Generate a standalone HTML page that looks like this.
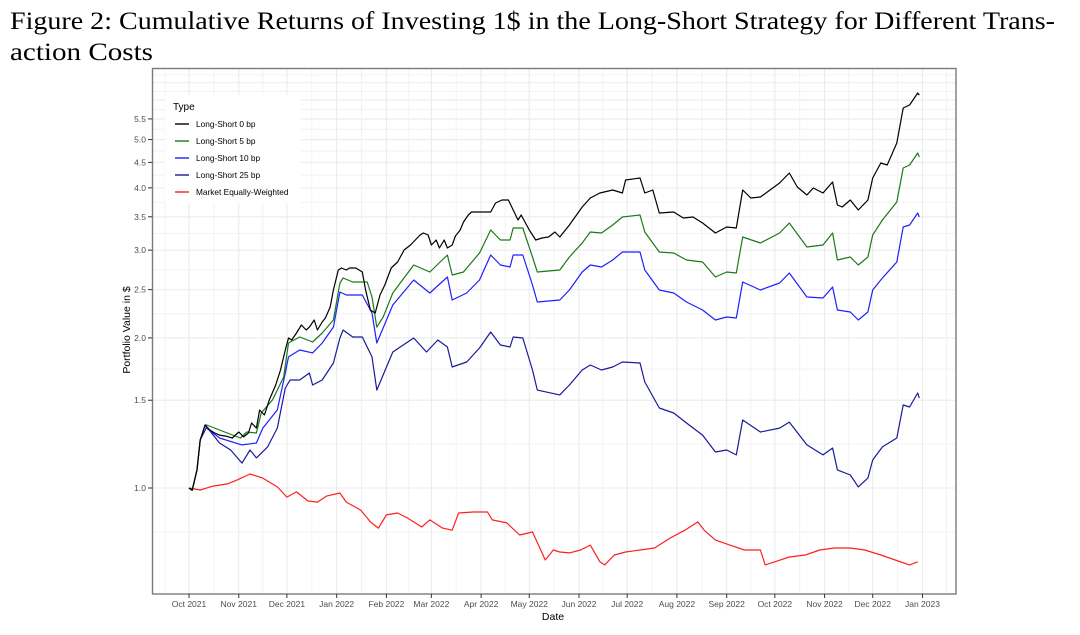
<!DOCTYPE html>
<html><head><meta charset="utf-8"><style>
html,body{margin:0;padding:0;background:#fff;}
svg{display:block;}
</style></head><body>
<svg id="chart" width="1080" height="635" xmlns="http://www.w3.org/2000/svg" font-family="'Liberation Sans', sans-serif">
<text x="10" y="29" font-family="'Liberation Serif', serif" font-size="25" textLength="1045" lengthAdjust="spacingAndGlyphs">Figure 2: Cumulative Returns of Investing 1$ in the Long-Short Strategy for Different Trans-</text>
<text x="10" y="60" font-family="'Liberation Serif', serif" font-size="25" textLength="143" lengthAdjust="spacingAndGlyphs">action Costs</text>
<g id="grid"></g>
<g id="series"></g>
<rect x="152.5" y="68.5" width="803.5" height="525.5" fill="none" stroke="#7a7a7a" stroke-width="1.4"/>
<g id="axes"></g>
<text transform="translate(130,330) rotate(-90)" text-anchor="middle" font-size="10.5" fill="#000">Portfolio Value in $</text>
<text x="553" y="620" text-anchor="middle" font-size="10.5" fill="#000">Date</text>
<g id="legend"></g>
</svg>
<script>
// ---- data ----
const monthLabels = ["Oct 2021","Nov 2021","Dec 2021","Jan 2022","Feb 2022","Mar 2022","Apr 2022","May 2022","Jun 2022","Jul 2022","Aug 2022","Sep 2022","Oct 2022","Nov 2022","Dec 2022","Jan 2023"];
const monthDays = [0,31,61,92,123,151,182,212,243,273,304,335,365,396,426,457];
const yTicks = [1.0,1.5,2.0,2.5,3.0,3.5,4.0,4.5,5.0,5.5];
const yTickLabels = ["1.0","1.5","2.0","2.5","3.0","3.5","4.0","4.5","5.0","5.5"];
const seriesNames = ["Long-Short 0 bp","Long-Short 5 bp","Long-Short 10 bp","Long-Short 25 bp","Market Equally-Weighted"];
const seriesColors = ["#000000","#1a7a1a","#1f1fff","#1a1a99","#ff1f1f"];

const ls0Days = [0,2,5,7,10,13,16,19,23,27,31,34,37,39,42,44,47,50,54,57,60,62,64,67,70,73,75,78,80,83,85,88,90,93,95,98,100,104,108,110,113,116,119,122,126,130,134,138,141,144,146,149,151,154,156,159,161,164,166,169,171,174,176,179,181,184,188,191,195,199,202,205,207,210,212,216,220,224,228,231,237,245,250,256,264,270,272,281,284,289,293,302,308,314,320,328,335,341,345,350,356,362,368,374,379,385,389,395,401,404,407,412,417,423,426,431,435,441,445,449,454,455];
const ls0Vals = [1.00,0.99,1.087,1.248,1.338,1.307,1.289,1.277,1.271,1.260,1.295,1.266,1.289,1.350,1.319,1.434,1.401,1.502,1.609,1.725,1.892,1.999,1.981,2.046,2.123,2.075,2.103,2.173,2.075,2.153,2.193,2.307,2.496,2.737,2.763,2.737,2.763,2.763,2.712,2.496,2.275,2.244,2.439,2.554,2.763,2.840,3.002,3.072,3.144,3.217,3.247,3.217,3.072,3.144,3.030,3.144,3.030,3.072,3.203,3.293,3.416,3.529,3.578,3.578,3.578,3.578,3.578,3.730,3.782,3.782,3.611,3.448,3.529,3.385,3.293,3.144,3.173,3.188,3.262,3.188,3.369,3.661,3.817,3.906,3.961,3.906,4.148,4.187,3.906,3.961,3.561,3.578,3.480,3.496,3.401,3.247,3.338,3.323,3.961,3.817,3.835,3.961,4.091,4.284,4.016,3.871,3.998,3.906,4.110,3.696,3.661,3.782,3.611,3.782,4.187,4.487,4.446,4.921,5.785,5.865,6.200,6.14];

const ls5Days = [0,2,5,7,10,11,19,32,36,42,45,52,59,62,69,77,83,90,94,96,102,111,114,117,121,127,140,150,161,164,171,181,188,194,200,202,208,214,217,231,237,245,250,257,264,270,281,284,293,302,310,320,328,335,341,345,356,368,374,385,395,401,404,412,417,423,426,432,441,445,449,454,455];
const ls5Vals = [1.00,0.99,1.087,1.248,1.338,1.338,1.307,1.260,1.295,1.289,1.414,1.502,1.670,1.954,2.009,1.963,2.046,2.173,2.578,2.638,2.590,2.590,2.416,2.103,2.203,2.461,2.801,2.712,2.934,2.675,2.712,2.961,3.293,3.144,3.144,3.323,3.323,2.907,2.712,2.737,2.907,3.101,3.262,3.247,3.369,3.496,3.529,3.262,2.975,2.961,2.867,2.840,2.650,2.712,2.700,3.188,3.101,3.247,3.401,3.044,3.072,3.247,2.867,2.907,2.801,2.907,3.217,3.448,3.747,4.385,4.446,4.699,4.613];

const ls10Days = [0,2,5,7,10,11,19,33,42,46,55,60,62,69,77,83,90,94,98,108,114,117,127,140,150,161,164,173,181,188,194,200,202,208,214,217,231,237,245,250,257,264,270,281,284,293,302,310,320,328,335,341,345,356,368,374,385,395,401,404,412,417,423,426,432,441,445,449,454,455];
const ls10Vals = [1.00,0.99,1.087,1.248,1.338,1.319,1.260,1.220,1.231,1.319,1.434,1.701,1.832,1.892,1.866,1.954,2.103,2.473,2.439,2.439,2.244,1.954,2.329,2.614,2.461,2.650,2.383,2.461,2.614,2.934,2.801,2.775,2.934,2.934,2.554,2.361,2.383,2.496,2.712,2.801,2.775,2.867,2.975,2.975,2.737,2.496,2.461,2.361,2.275,2.173,2.203,2.193,2.590,2.496,2.578,2.700,2.416,2.405,2.530,2.275,2.254,2.173,2.254,2.496,2.638,2.840,3.338,3.369,3.561,3.496];

const ls25Days = [0,2,5,7,11,19,26,33,38,42,49,55,60,63,69,75,77,83,90,94,96,102,108,114,117,127,140,148,155,161,164,173,181,188,194,200,202,208,214,217,231,237,245,250,257,264,270,281,284,293,302,310,320,328,335,341,345,356,368,374,385,395,401,404,412,417,423,426,432,441,445,449,454,455];
const ls25Vals = [1.00,0.99,1.087,1.248,1.326,1.231,1.192,1.122,1.192,1.149,1.209,1.319,1.587,1.647,1.647,1.701,1.609,1.647,1.781,1.999,2.075,2.009,2.009,1.832,1.572,1.874,1.999,1.874,1.981,1.918,1.749,1.790,1.909,2.056,1.936,1.918,2.009,1.999,1.725,1.572,1.537,1.609,1.725,1.765,1.725,1.749,1.790,1.781,1.632,1.447,1.414,1.350,1.277,1.181,1.192,1.165,1.369,1.295,1.319,1.356,1.220,1.165,1.203,1.087,1.062,1.005,1.047,1.138,1.209,1.260,1.467,1.454,1.551,1.515];

const mktDays = [0,7,15,24,30,38,46,55,61,67,74,80,86,94,98,107,113,118,123,130,136,145,150,158,164,168,177,186,189,198,206,214,222,227,231,237,244,250,256,259,265,272,281,290,300,309,317,321,328,337,346,356,359,365,374,384,393,402,412,421,431,440,449,454];
const mktVals = [1.00,0.991,1.009,1.019,1.038,1.067,1.047,1.005,0.959,0.982,0.942,0.937,0.964,0.977,0.937,0.903,0.855,0.831,0.883,0.891,0.871,0.835,0.863,0.831,0.823,0.891,0.895,0.895,0.863,0.851,0.805,0.816,0.717,0.751,0.744,0.741,0.751,0.768,0.711,0.701,0.734,0.744,0.751,0.758,0.794,0.823,0.855,0.823,0.786,0.768,0.751,0.751,0.701,0.711,0.727,0.734,0.751,0.758,0.758,0.751,0.734,0.717,0.701,0.711];

// ---- scales ----
const X0 = 189, PX_PER_DAY = 1.605;
const Y1 = 488, PX_PER_LN = 216.5;
function xs(d){ return X0 + d*PX_PER_DAY; }
function ys(v){ return Y1 - Math.log(v)*PX_PER_LN; }
const PL=153, PR=956, PT=69, PB=594;
const NS="http://www.w3.org/2000/svg";
function mk(tag, attrs, parent){ const e=document.createElementNS(NS,tag); for(const k in attrs) e.setAttribute(k,attrs[k]); parent.appendChild(e); return e; }

const grid=document.getElementById('grid');
const ext=[1/1.5,1.0].concat(yTicks.slice(1)).concat([6.0,6.5,7.0]);
for(let i=0;i<ext.length-1;i++){
  const m=Math.sqrt(ext[i]*ext[i+1]); const y=ys(m);
  if(y>PT&&y<PB){ const l=mk('line',{x1:PL,x2:PR,y1:y,y2:y,stroke:'#f2f2f2','stroke-width':1},grid);
  
   }
}
const extMaj=yTicks.concat([6.0,6.5]);
extMaj.forEach(v=>{ const y=ys(v); if(y>PT&&y<PB){ const l=mk('line',{x1:PL,x2:PR,y1:y,y2:y,stroke:'#ebebeb','stroke-width':1.1},grid);
  
   }});
const md=[-30].concat(monthDays).concat([487]);
for(let i=0;i<md.length-1;i++){
  const x=xs((md[i]+md[i+1])/2);
  if(x>PL&&x<PR){ const l=mk('line',{x1:x,x2:x,y1:PT,y2:PB,stroke:'#f2f2f2','stroke-width':1},grid);
  
   }
}
monthDays.forEach(d=>{ const x=xs(d); const l=mk('line',{x1:x,x2:x,y1:PT,y2:PB,stroke:'#ebebeb','stroke-width':1.1},grid);
  
   });

const sg=document.getElementById('series');
const allDays=[ls0Days,ls5Days,ls10Days,ls25Days,mktDays];
const allVals=[ls0Vals,ls5Vals,ls10Vals,ls25Vals,mktVals];
const seriesKeys=['line-long-short-0bp','line-long-short-5bp','line-long-short-10bp','line-long-short-25bp','line-market-equal-weighted'];
const order=[4,3,2,1,0];
order.forEach(i=>{
  const pts=allDays[i].map((d,j)=>xs(d).toFixed(1)+','+ys(allVals[i][j]).toFixed(1)).join(' ');
  const p=mk('polyline',{points:pts,fill:'none',stroke:seriesColors[i],'stroke-width':1.2,'stroke-linejoin':'round'},sg);
  
  
});

const ax=document.getElementById('axes');
yTicks.forEach((v,i)=>{
  const y=ys(v);
  const t=mk('line',{x1:148,x2:152,y1:y,y2:y,stroke:'#333','stroke-width':1},ax);
  
  
  const tx=mk('text',{x:146,y:y+3,'text-anchor':'end','font-size':8.5,fill:'#4d4d4d'},ax);
  tx.textContent=yTickLabels[i];
  
  
});
monthDays.forEach((d,i)=>{
  const x=xs(d);
  const t=mk('line',{x1:x,x2:x,y1:594,y2:598,stroke:'#333','stroke-width':1},ax);
  
  
  const tx=mk('text',{x:x,y:607,'text-anchor':'middle','font-size':8.5,fill:'#4d4d4d'},ax);
  tx.textContent=monthLabels[i];
  
  
});

const lg=document.getElementById('legend');
const bg=mk('rect',{x:165,y:95,width:136,height:108,fill:'#fff'},lg);


const lt=mk('text',{x:173,y:110,'font-size':10,fill:'#000'},lg);
lt.textContent='Type';


seriesNames.forEach((n,i)=>{
  const y=124+i*17;
  const g=mk('g',{},lg);
  
  
  mk('line',{x1:175,x2:189,y1:y,y2:y,stroke:seriesColors[i],'stroke-width':1.4},g);
  const t=mk('text',{x:196,y:y+3,'font-size':8.3,fill:'#000'},g);
  t.textContent=n;
});
</script>
</body></html>
